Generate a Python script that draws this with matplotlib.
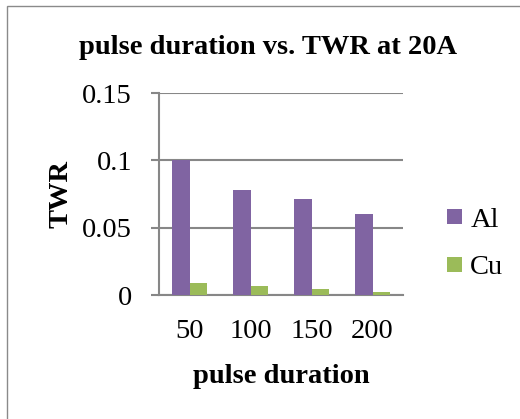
import matplotlib
matplotlib.use("Agg")
import matplotlib.pyplot as plt
import numpy as np
from matplotlib.patches import Rectangle

# pulse duration vs tool wear ratio at 20A
durations = ["50", "100", "150", "200"]
twr_al = [0.100, 0.078, 0.0713, 0.060]
twr_cu = [0.0089, 0.0069, 0.0042, 0.0022]
y_ticks = [0, 0.05, 0.1, 0.15]
y_tick_labels = ["0", "0.05", "0.1", "0.15"]

plt.rcParams["font.family"] = ["Liberation Serif", "DejaVu Serif"]
FS = 20.5

W, H = 520, 419
fig = plt.figure(figsize=(W / 100, H / 100), dpi=100)
fig.patch.set_facecolor("white")

# outer chart frame
fig.patches.append(Rectangle((7 / W, -0.05), 1.2, 1.05 - 6 / H, transform=fig.transFigure,
                             fill=False, edgecolor="#8a8a8a", linewidth=1.0))

ax = fig.add_axes([159 / W, (H - 295) / H, 244 / W, 202 / H])

x = np.arange(len(durations))
w = 0.287
grid_c = "#878787"

ax.bar(x - w / 2, twr_al, w, color="#8064A2", label="Al", zorder=3)
ax.bar(x + w / 2, twr_cu, w, color="#9BBB59", label="Cu", zorder=3)

ax.set_xlim(-0.5, len(durations) - 0.5)
ax.set_ylim(0, 0.15)
ax.set_yticks(y_ticks)
ax.set_yticklabels(y_tick_labels, fontsize=FS)
ax.set_xticks(x)
ax.set_xticklabels(durations, fontsize=FS)

ax.yaxis.grid(True, color=grid_c, linewidth=1.5, zorder=0)
ax.set_axisbelow(True)
for s in ["top", "right"]:
    ax.spines[s].set_visible(False)
for s in ["left", "bottom"]:
    ax.spines[s].set_color(grid_c)
    ax.spines[s].set_linewidth(1.5)
ax.tick_params(axis="y", length=6, width=1.5, color=grid_c, pad=13.5)
ax.tick_params(axis="x", length=0, pad=17)

ax.set_ylabel("TWR", fontsize=FS, fontweight="bold", labelpad=6)
ax.set_xlabel("pulse duration", fontsize=FS, fontweight="bold", labelpad=15)
fig.text(268 / W, 1 - 48 / H, "pulse duration vs. TWR at 20A", fontsize=FS,
         fontweight="bold", ha="center", va="center")

fig.legend(loc="center left", bbox_to_anchor=(421 / W, 1 - 244 / H), frameon=False,
           fontsize=FS, handlelength=0.53, handleheight=0.45, handletextpad=0.3,
           labelspacing=0.8)

fig.savefig("out.png", dpi=100)
